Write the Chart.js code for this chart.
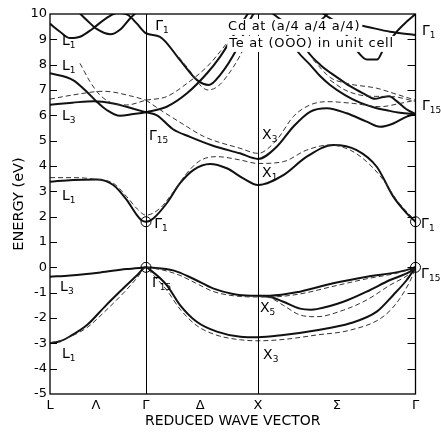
<!DOCTYPE html>
<html>
<head>
<meta charset="utf-8">
<script src="https://cdn.jsdelivr.net/npm/chart.js@4"></script>
<style>
  html, body { margin: 0; padding: 0; background: #fff; }
  #wrap { width: 441px; height: 432px; }
</style>
</head>
<body>
<div id="wrap"><canvas id="bands"></canvas></div>
<script>
// positions along the path L - Γ - X - Γ (in units of the Γ-X length)
const kTicks = [0, 0.41, 0.857, 1.34, 1.857, 2.56, 3.263];
const kTickLabels = ['L', 'Λ', 'Γ', 'Δ', 'X', 'Σ', 'Γ'];
const kLines = [0.857, 1.857];
const energyMin = -5;
const energyMax = 10;

// solid bands [k, E (eV)]
const valLow = [[0,-3.0],[0.09,-2.92],[0.18,-2.72],[0.33,-2.28],[0.5,-1.5],[0.68,-0.72],[0.78,-0.3],[0.857,0],
  [0.9,-0.12],[1.042,-0.7],[1.161,-1.49],[1.31,-2.15],[1.49,-2.54],[1.7,-2.74],[1.857,-2.76],
  [2.083,-2.67],[2.381,-2.48],[2.679,-2.21],[2.917,-1.75],[3.065,-1.09],[3.185,-0.5],[3.263,0]];
const valL3 = [[0,-0.37],[0.18,-0.32],[0.45,-0.2],[0.68,-0.07],[0.857,0]];
const valDelta5 = [[0.857,0],[0.9,-0.01],[1.1,-0.12],[1.28,-0.45],[1.455,-0.83],[1.634,-1.05],[1.75,-1.11],[1.857,-1.12],
  [1.964,-1.12],[2.232,-0.96],[2.527,-0.63],[2.83,-0.37],[3.125,-0.17],[3.263,0]];
const valSigmaMid = [[1.857,-1.12],[1.964,-1.16],[2.083,-1.36],[2.232,-1.63],[2.33,-1.67],[2.381,-1.65],[2.619,-1.36],
  [2.827,-0.96],[3.036,-0.5],[3.214,-0.17],[3.263,0]];
const cond1 = [[0,3.38],[0.205,3.45],[0.417,3.47],[0.565,3.25],[0.685,2.66],[0.774,2.07],[0.82,1.85],[0.857,1.8],
  [0.922,1.93],[1.042,2.53],[1.161,3.32],[1.279,3.84],[1.429,4.08],[1.578,3.91],[1.726,3.51],[1.857,3.25],
  [2.083,3.64],[2.292,4.37],[2.529,4.83],[2.738,4.63],[2.917,3.97],[3.065,2.79],[3.185,2.13],[3.263,1.8]];
const condX3 = [[0.857,6.12],[0.955,6.0],[1.098,5.45],[1.25,5.15],[1.455,4.8],[1.696,4.5],[1.857,4.28],
  [2.024,4.76],[2.172,5.55],[2.321,6.14],[2.471,6.28],[2.649,6.08],[2.827,5.75],[2.946,5.55],[3.065,5.68],[3.185,5.95],[3.263,6.05]];
const condRise = [[0.857,6.12],[1.042,6.34],[1.223,6.87],[1.402,7.66],[1.518,8.31],[1.67,9.37],[1.759,9.96],[1.857,10.6]];
const condL1 = [[0,7.66],[0.205,7.39],[0.328,6.93],[0.417,6.54],[0.506,6.21],[0.625,5.98],[0.744,6.05],[0.857,6.12]];
const condL3 = [[0,6.42],[0.2,6.5],[0.39,6.56],[0.565,6.47],[0.744,6.26],[0.857,6.12]];
const condG1 = [[0,9.62],[0.089,9.3],[0.179,9.05],[0.268,9.1],[0.375,9.4],[0.491,9.8],[0.607,10.05],[0.696,9.96],[0.774,9.63],[0.857,9.24],
  [0.982,9.1],[1.161,8.18],[1.313,7.39],[1.42,7.2],[1.518,7.59],[1.67,8.64],[1.786,9.77],[1.857,10.3]];
const condTopL = [[0.25,10.1],[0.33,9.75],[0.42,9.4],[0.54,9.2],[0.63,9.4],[0.72,9.85],[0.78,10.1]];
const sigmaS1 = [[2.1,9.3],[2.214,8.5],[2.321,8.0],[2.411,7.55],[2.5,7.2],[2.634,6.8],[2.768,6.5],[2.902,6.3],[3.006,6.2],[3.125,6.1],[3.263,6.05]];
const sigmaS2 = [[2.2,9.3],[2.304,8.5],[2.411,8.0],[2.563,7.5],[2.679,7.15],[2.795,6.87],[2.902,6.65],[2.973,6.72],[3.027,6.75],[3.098,6.55],[3.179,6.25],[3.263,6.05]];
const sigmaG1 = [[2.411,10.1],[2.529,9.77],[2.827,9.5],[3.036,9.3],[3.214,9.2],[3.263,9.17]];
const sigmaU = [[2.6,9.5],[2.74,8.55],[2.83,8.2],[2.92,8.2],[2.976,8.6],[3.095,9.3],[3.185,9.7],[3.263,10.0]];
const sigmaTop = [[1.857,10.4],[1.964,10.1],[2.054,9.8],[2.2,9.5],[2.4,9.7],[2.5,10.1]];

// dashed bands
const valLowD = [[0,-2.97],[0.09,-2.9],[0.18,-2.74],[0.33,-2.38],[0.5,-1.7],[0.68,-0.9],[0.78,-0.4],[0.857,0],
  [0.9,-0.2],[1.042,-0.9],[1.161,-1.65],[1.31,-2.3],[1.49,-2.68],[1.7,-2.86],[1.857,-2.9],
  [2.1,-2.84],[2.381,-2.67],[2.679,-2.48],[2.973,-1.95],[3.125,-1.22],[3.241,-0.28],[3.263,0]];
const valDelta5D = [[0.857,0],[1.0,-0.1],[1.15,-0.3],[1.3,-0.62],[1.455,-0.95],[1.634,-1.12],[1.857,-1.17],
  [1.964,-1.17],[2.232,-1.05],[2.527,-0.75],[2.83,-0.45],[3.125,-0.2],[3.263,0]];
const valSigmaMidD = [[1.857,-1.15],[1.964,-1.2],[2.083,-1.5],[2.232,-1.88],[2.381,-1.95],[2.619,-1.69],[2.827,-1.29],
  [3.036,-0.7],[3.214,-0.24],[3.263,0]];
const cond1D = [[0,3.54],[0.205,3.54],[0.417,3.47],[0.565,3.32],[0.685,2.79],[0.78,2.3],[0.857,2.06],
  [0.982,2.33],[1.101,2.98],[1.22,3.71],[1.339,4.21],[1.488,4.37],[1.696,4.24],[1.857,4.1],
  [2.083,4.17],[2.292,4.63],[2.5,4.83],[2.679,4.63],[2.827,4.17],[2.976,3.45],[3.095,2.66],[3.214,2.06],[3.263,1.85]];
const condX3D = [[0.857,6.6],[0.99,6.2],[1.17,5.7],[1.38,5.15],[1.696,4.7],[1.857,4.5],
  [2.024,5.03],[2.172,5.95],[2.321,6.41],[2.471,6.54],[2.708,6.47],[2.946,6.34],[3.125,6.47],[3.263,6.6]];
const condRiseD = [[0.857,6.6],[1.042,6.74],[1.223,7.26],[1.402,7.92],[1.518,8.51],[1.696,9.57],[1.8,10.3]];
const condL3D = [[0,6.64],[0.2,6.8],[0.477,6.95],[0.744,6.74],[0.857,6.6]];
const condL1D = [[0.268,8.05],[0.357,7.33],[0.446,6.8],[0.565,6.47],[0.685,6.41],[0.857,6.6]];
const condG1D = [[1.15,8.3],[1.25,7.75],[1.339,7.2],[1.411,7.0],[1.5,7.15],[1.589,7.6],[1.696,8.35],[1.786,9.2],[1.857,9.8]];
const sigmaD1 = [[2.348,8.2],[2.5,7.5],[2.649,7.26],[2.917,7.07],[3.08,6.85],[3.263,6.6]];
const sigmaD2 = [[2.5,7.39],[2.634,7.0],[2.768,6.8],[2.902,6.75],[3.054,6.74],[3.263,6.55]];

const solidBands = [valLow, valL3, valDelta5, valSigmaMid, cond1, condX3, condRise, condL1, condL3,
  condG1, condTopL, sigmaS1, sigmaS2, sigmaG1, sigmaU, sigmaTop];
const dashedBands = [valLowD, valDelta5D, valSigmaMidD, cond1D, condX3D, condRiseD, condL3D, condL1D,
  condG1D, sigmaD1, sigmaD2];

// labels: [symbol, subscript, k, E]
const pointLabels = [
  ['L','1',0.107,8.93], ['L','1',0.107,7.95], ['L','3',0.107,5.97], ['L','1',0.107,2.81],
  ['L','3',0.09,-0.78], ['L','1',0.107,-3.42],
  ['Γ','1',0.94,9.53], ['Γ','15',0.884,5.18], ['Γ','1',0.93,1.71], ['Γ','15',0.911,-0.62],
  ['X','3',1.893,5.22], ['X','1',1.893,3.72], ['X','5',1.875,-1.61], ['X','3',1.902,-3.46],
  ['Γ','1',3.32,9.33], ['Γ','15',3.32,6.37], ['Γ','1',3.313,1.71], ['Γ','15',3.313,-0.26]
];
const circled = [[0.857,1.8],[0.857,0],[3.263,1.8],[3.263,0]];
const noteLines = [['Cd at (a/4 a/4 a/4)',1.59,9.49], ['Te at (OOO) in unit cell',1.6,8.82]];

const toXY = b => b.map(p => ({ x: p[0], y: p[1] }));

const datasets = [];
dashedBands.forEach(b => datasets.push({
  data: toXY(b), showLine: true, pointRadius: 0, borderColor: '#333', borderWidth: 1,
  borderDash: [5, 3], cubicInterpolationMode: 'monotone'
}));
solidBands.forEach(b => datasets.push({
  data: toXY(b), showLine: true, pointRadius: 0, borderColor: '#111', borderWidth: 2,
  cubicInterpolationMode: 'monotone'
}));

const frame = {
  id: 'frame',
  afterDatasetsDraw(chart) {
    const { ctx, chartArea: a, scales: { x, y } } = chart;
    ctx.save();
    ctx.strokeStyle = '#000';
    ctx.lineWidth = 1.3;
    ctx.strokeRect(a.left, a.top, a.right - a.left, a.bottom - a.top);
    ctx.lineWidth = 1;
    kLines.forEach(k => {
      const px = Math.round(x.getPixelForValue(k)) + 0.5;
      ctx.beginPath(); ctx.moveTo(px, a.top); ctx.lineTo(px, a.bottom); ctx.stroke();
    });
    // inward ticks on both sides
    for (let e = energyMin + 1; e < energyMax; e++) {
      const py = Math.round(y.getPixelForValue(e)) + 0.5;
      ctx.beginPath();
      ctx.moveTo(a.left, py); ctx.lineTo(a.left + 7, py);
      ctx.moveTo(a.right - 8, py); ctx.lineTo(a.right, py);
      ctx.stroke();
    }
    circled.forEach(c => {
      ctx.beginPath();
      ctx.arc(x.getPixelForValue(c[0]), y.getPixelForValue(c[1]), 5, 0, Math.PI * 2);
      ctx.stroke();
    });
    // note in the corner, on a white ground
    ctx.font = '13px "DejaVu Sans"';
    ctx.letterSpacing = '0.7px';
    ctx.textBaseline = 'middle';
    noteLines.forEach(n => {
      const px = x.getPixelForValue(n[1]), py = y.getPixelForValue(n[2]);
      const w = ctx.measureText(n[0]).width;
      ctx.fillStyle = '#fff';
      ctx.fillRect(px - 2, py - 8, w + 4, 16);
      ctx.fillStyle = '#000';
      ctx.fillText(n[0], px, py);
    });
    ctx.letterSpacing = '0px';
    pointLabels.forEach(l => {
      const px = x.getPixelForValue(l[2]), py = y.getPixelForValue(l[3]);
      ctx.font = '14px "DejaVu Sans"';
      ctx.fillStyle = '#000';
      ctx.fillText(l[0], px, py);
      const w = ctx.measureText(l[0]).width;
      ctx.font = '9px "DejaVu Sans"';
      ctx.fillText(l[1], px + w, py + 5);
    });
    ctx.restore();
  }
};

new Chart(document.getElementById('bands'), {
  type: 'scatter',
  data: { datasets },
  options: {
    responsive: true,
    maintainAspectRatio: false,
    animation: false,
    layout: { padding: { top: 14, right: 25.5, left: 0, bottom: 0 } },
    plugins: { legend: { display: false }, tooltip: { enabled: false } },
    scales: {
      x: {
        type: 'linear', min: 0, max: 3.263,
        afterFit(s) { s.height = 38; },
        afterBuildTicks(s) { s.ticks = kTicks.map(v => ({ value: v })); },
        grid: { display: false, drawTicks: false },
        border: { display: false },
        ticks: {
          autoSkip: false, maxRotation: 0, padding: 4, color: '#000',
          font: { family: 'DejaVu Sans', size: 13 },
          callback: (v, i) => kTickLabels[i]
        },
        title: {
          display: true, text: 'REDUCED WAVE VECTOR', color: '#000',
          font: { family: 'DejaVu Sans', size: 14 }, padding: { bottom: 2 }
        }
      },
      y: {
        min: energyMin, max: energyMax,
        afterFit(s) { s.width = 50; },
        grid: { display: false, drawTicks: false },
        border: { display: false },
        ticks: {
          stepSize: 1, padding: 3, color: '#000',
          font: { family: 'DejaVu Sans', size: 13 }
        },
        title: {
          display: true, text: 'ENERGY (eV)', color: '#000',
          font: { family: 'DejaVu Sans', size: 14.5 }, padding: { top: 11 }
        }
      }
    }
  },
  plugins: [frame]
});
</script>
</body>
</html>
